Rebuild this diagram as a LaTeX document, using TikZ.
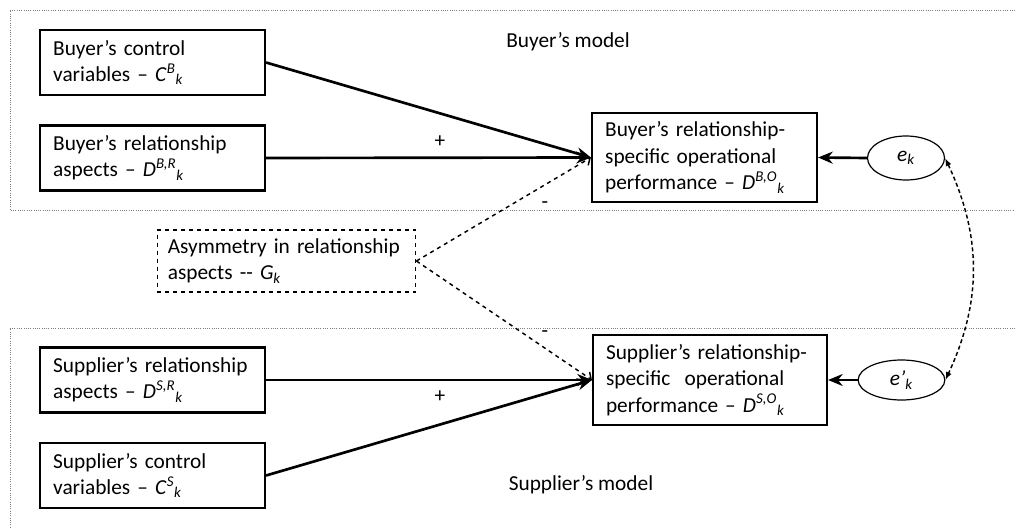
\documentclass[tikz,border=0pt]{standalone}
\usepackage{fontspec}
\setmainfont{Carlito}
\usetikzlibrary{arrows.meta,shapes.geometric}
\newcommand{\varsym}[2]{\textit{#1}\textsuperscript{\textit{#2}}\textsubscript{\textit{k}}}
\tikzset{
  varbox/.style={draw, line width=1.6pt, align=left, inner sep=0pt,
    minimum width=168.75pt, minimum height=48.75pt, text width=149pt},
  perfbox/.style={varbox, minimum height=67pt},
  asymbox/.style={draw, dashed, line width=0.9pt, align=left, inner sep=0pt,
    minimum width=194pt, minimum height=46.5pt, text width=178pt},
  errnode/.style={draw, ellipse, line width=0.9pt, inner sep=0pt},
  modelframe/.style={gray, densely dotted, line width=0.7pt},
  effect/.style={line width=2pt, -{Stealth[length=11pt,width=9pt]}},
  asymeffect/.style={dashed, line width=1.1pt, -{Straight Barb[length=4pt]}},
  covar/.style={densely dashed, line width=1.1pt, {Latex[length=6pt]}-{Latex[length=6pt]}}
}

\begin{document}
\begin{tikzpicture}[x=0.75pt, y=-0.75pt, font=\fontsize{16}{19.8}\selectfont]
	\useasboundingbox (0,0) rectangle (1015,528);
	% model frames
	\draw[modelframe] (1015,10) -- (10,10) -- (10,210) -- (1015,210);
	\draw[modelframe] (1015,328) -- (10,328) -- (10,528);
	\node (buyer) at (568,42) {Buyer’s model};
	\node (supplier) at (581,485) {Supplier’s model};
	% buyer side
	\node[varbox] (cb) at (152.5,62.5) {Buyer’s control\\ variables -- \varsym{C}{B}};
	\node[varbox] (db) at (152.5,158) {Buyer’s relationship\\ aspects -- \varsym{D}{B,R}};
	\node[perfbox] (pb) at (704.5,157.5) {Buyer’s relationship-\\ specific operational\\ performance -- \varsym{D}{B,O}};
	\node[errnode, minimum width=57.75pt, minimum height=33pt] (ek) at (906,158) {\textit{e}\textsubscript{\textit{k}}};
	% asymmetry
	\node[asymbox] (asym) at (286.5,261) {Asymmetry in relationship\\ aspects -{}- \textit{G}\textsubscript{\textit{k}}};
	% supplier side
	\node[varbox] (ds) at (152.5,380) {Supplier’s relationship\\ aspects -- \varsym{D}{S,R}};
	\node[varbox] (cs) at (152.5,475.5) {Supplier’s control\\ variables -- \varsym{C}{S}};
	\node[perfbox, minimum width=175.5pt, text width=156pt] (ps) at (710,380) {Supplier’s relationship-\\ specific~ operational\\ performance -- \varsym{D}{S,O}};
	\node[errnode, minimum width=65pt, minimum height=30pt] (es) at (901.5,380) {\textit{e’}\textsubscript{\textit{k}}};
	% effects
	\draw[effect] (cb.east) -- (pb.west);
	\draw[effect] (db.east) -- (pb.west);
	\draw[effect] (ds.east) -- (ps.west);
	\draw[effect] (cs.east) -- (ps.west);
	\draw[effect] (ek.west) -- (pb.east);
	\draw[effect] (es.west) -- (ps.east);
	\draw[asymeffect] (asym.east) -- (pb.west);
	\draw[asymeffect] (asym.east) -- (ps.west);
	\draw[covar] (ek.east) to[bend left=25] (es.east);
	% signs
	\node (plusb) at (440,142) {+};
	\node (plus) at (440,397) {+};
	\node (minusb) at (545,205) {-};
	\node (minuss) at (545,334) {-};
\end{tikzpicture}
\end{document}
